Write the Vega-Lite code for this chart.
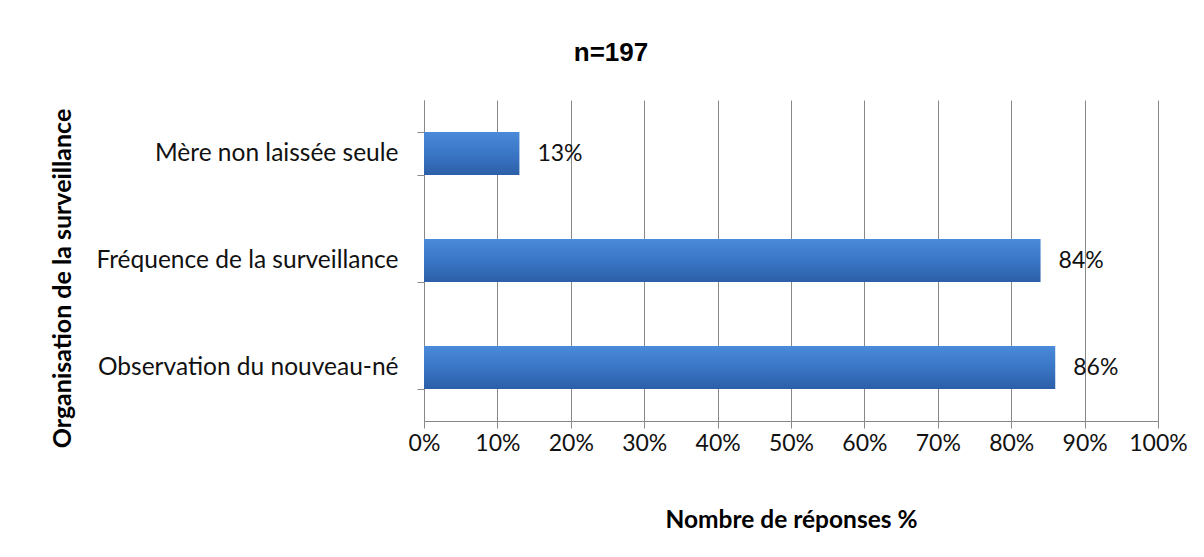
{
  "$schema": "https://vega.github.io/schema/vega-lite/v6.json",
  "autosize": {"type": "none"},
  "width": 734,
  "height": 321,
  "padding": {"left": 424, "top": 100, "right": 46, "bottom": 136},
  "background": "white",
  "title": {
    "text": "n=197",
    "anchor": "middle",
    "frame": "group",
    "dx": -180,
    "offset": 21,
    "font": "Liberation Sans",
    "fontSize": 26,
    "fontWeight": "bold",
    "color": "#000000"
  },
  "data": {
    "values": [
      {"cat": "Mère non laissée seule", "pct": 13},
      {"cat": "Fréquence de la surveillance", "pct": 84},
      {"cat": "Observation du nouveau-né", "pct": 86}
    ]
  },
  "config": {
    "view": {"stroke": null},
    "axis": {"labelFont": "Lato", "titleFont": "Lato", "labelColor": "#111111", "titleColor": "#000000"}
  },
  "layer": [
    {
      "mark": {
        "type": "bar",
        "color": {
          "gradient": "linear",
          "x1": 0, "y1": 0, "x2": 0, "y2": 1,
          "stops": [
            {"offset": 0, "color": "#4a8ad8"},
            {"offset": 0.5, "color": "#3a76c6"},
            {"offset": 1, "color": "#2c5fa8"}
          ]
        }
      },
      "encoding": {
        "y": {
          "field": "cat",
          "type": "nominal",
          "sort": null,
          "scale": {"paddingInner": 0.6, "paddingOuter": 0.3},
          "axis": {
            "title": "Organisation de la surveillance",
            "titleFontSize": 25,
            "titleFontWeight": "bold",
            "titleX": -362,
            "titleY": 178,
            "titleBaseline": "middle",
            "titleAngle": -90,
            "labelFontSize": 24.5,
            "labelPadding": 19,
            "tickBand": "extent",
            "tickSize": 7,
            "tickColor": "#888888",
            "domainColor": "#888888",
            "labelLimit": 400
          }
        },
        "x": {
          "field": "pct",
          "type": "quantitative",
          "scale": {"domain": [0, 100], "nice": false},
          "axis": {
            "title": "Nombre de réponses %",
            "titleFontSize": 24.5,
            "titleFontWeight": "bold",
            "titleX": 367,
            "titleY": 99,
            "titleBaseline": "middle",
            "values": [0, 10, 20, 30, 40, 50, 60, 70, 80, 90, 100],
            "labelExpr": "datum.value + '%'",
            "labelFontSize": 23,
            "labelPadding": 4,
            "labelOverlap": false,
            "labelBound": false,
            "labelFlush": false,
            "tickSize": 7,
            "tickColor": "#888888",
            "domainColor": "#888888",
            "grid": true,
            "gridColor": "#888888",
            "gridWidth": 1
          }
        }
      }
    },
    {
      "mark": {"type": "text", "align": "left", "baseline": "middle", "dx": 18, "font": "Lato", "fontSize": 23, "color": "#111111"},
      "encoding": {
        "y": {"field": "cat", "type": "nominal", "sort": null},
        "x": {"field": "pct", "type": "quantitative"},
        "text": {"field": "label"}
      },
      "transform": [{"calculate": "datum.pct + '%'", "as": "label"}]
    }
  ]
}
